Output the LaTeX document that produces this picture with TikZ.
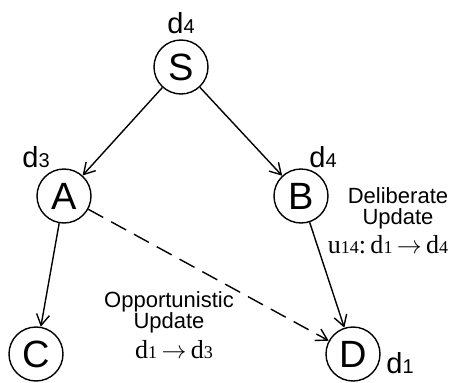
\documentclass[tikz,border=0pt]{standalone}
\usepackage{fontspec}
\setmainfont{Liberation Sans}
\newfontfamily\serifm{Liberation Serif}
\usetikzlibrary{arrows.meta}
\begin{document}
\begin{tikzpicture}[x=1pt,y=-1pt,
  vert/.style={circle,draw,line width=1.4pt,minimum size=54pt,inner sep=0pt,font=\fontsize{38}{38}\selectfont},
  lab/.style={anchor=base,inner sep=0pt,font=\fontsize{29}{29}\selectfont},
  txt/.style={anchor=base,inner sep=0pt,align=center,font=\fontsize{22}{21}\selectfont},
  mth/.style={anchor=base,inner sep=0pt,font=\serifm\fontsize{26}{26}\selectfont},
  edge/.style={line width=1.4pt,-{Straight Barb[length=11pt,width=13pt,line width=1.4pt]}},
  opp/.style={edge,dash pattern=on 17pt off 9pt}]
\useasboundingbox (0,0) rectangle (453,383);
\node[vert] (S) at (181,67) {S};
\node[vert] (A) at (64,196) {A};
\node[vert] (B) at (301,196) {B};
\node[vert] (C) at (36,354) {C};
\node[vert] (D) at (353,354) {D};
\node[lab] (lS) at (181,33) {d{\fontsize{20}{20}\selectfont 4}};
\node[lab] (lA) at (36,167) {d{\fontsize{20}{20}\selectfont 3}};
\node[lab] (lB) at (323,167) {d{\fontsize{20}{20}\selectfont 4}};
\node[lab] (lD) at (400,373) {d{\fontsize{20}{20}\selectfont 1}};
\draw[edge] (S) -- (A);
\draw[edge] (S) -- (B);
\draw[edge] (A) -- (C);
\draw[edge] (B) -- (D);
\draw[opp] (A) -- (D);
\node[txt] (t1) at (398,224) {Deliberate\\Update};
\node[mth] (t3) at (388,253) {u{\fontsize{18}{18}\selectfont 14}:\,d{\fontsize{18}{18}\selectfont 1}\,$\rightarrow$\,d{\fontsize{18}{18}\selectfont 4}};
\node[txt] (o1) at (169,328) {Opportunistic\\Update};
\node[mth] (o3) at (174,358) {d{\fontsize{18}{18}\selectfont 1}\,$\rightarrow$\,d{\fontsize{18}{18}\selectfont 3}};
\end{tikzpicture}
\end{document}
